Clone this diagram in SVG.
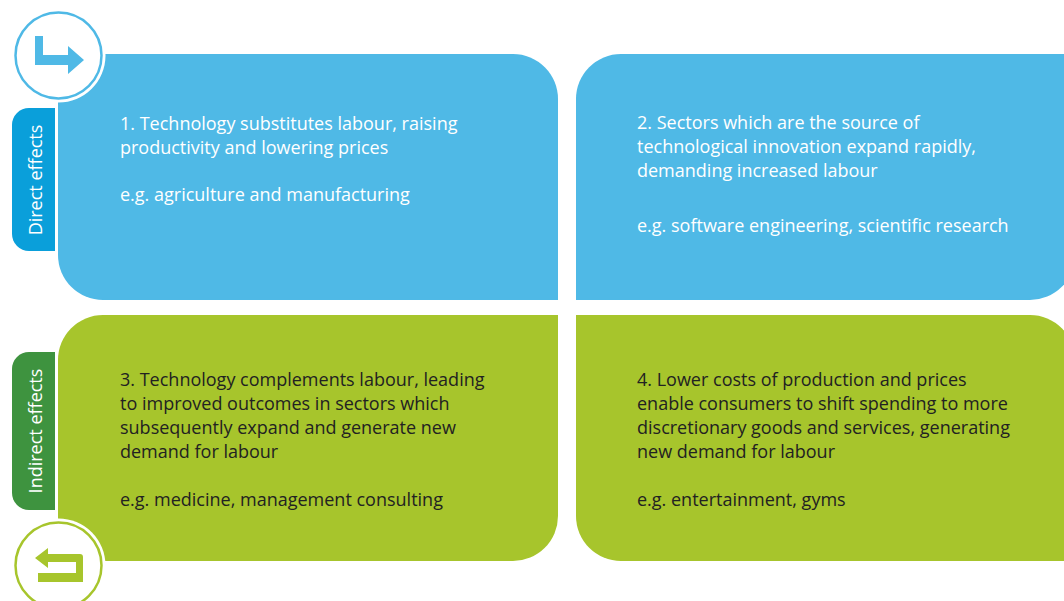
<svg xmlns="http://www.w3.org/2000/svg" width="1064" height="601" viewBox="0 0 1064 601">
<style>
.blue{fill:#4fb9e6}
.green{fill:#a7c52c}
.t{font-family:"Open Sans","Noto Sans","Liberation Sans",sans-serif;font-size:18px}
.w{fill:#ffffff}
.d{fill:#222222}
.tab{font-family:"Open Sans","Noto Sans","Liberation Sans",sans-serif;font-size:18px;fill:#ffffff;text-anchor:middle}
</style>
<rect width="1064" height="601" fill="#ffffff"/>
<g id="box1">
<path class="blue" d="M58,54 H513 A45,45 0 0 1 558,99 V300 H103 A45,45 0 0 1 58,255 Z"/>
<text class="t w" x="120" y="130">1. Technology substitutes labour, raising</text>
<text class="t w" x="120" y="154">productivity and lowering prices</text>
<text class="t w" x="120" y="201">e.g. agriculture and manufacturing</text>
</g>
<g id="box2">
<path class="blue" d="M576,99 A45,45 0 0 1 621,54 H1075 V255 A45,45 0 0 1 1030,300 H576 Z"/>
<text class="t w" x="637" y="129">2. Sectors which are the source of</text>
<text class="t w" x="637" y="153">technological innovation expand rapidly,</text>
<text class="t w" x="637" y="177">demanding increased labour</text>
<text class="t w" x="637" y="232">e.g. software engineering, scientific research</text>
</g>
<g id="box3">
<path class="green" d="M103,315 H558 V516 A45,45 0 0 1 513,561 H58 V360 A45,45 0 0 1 103,315 Z"/>
<text class="t d" x="120" y="386">3. Technology complements labour, leading</text>
<text class="t d" x="120" y="410">to improved outcomes in sectors which</text>
<text class="t d" x="120" y="434">subsequently expand and generate new</text>
<text class="t d" x="120" y="458">demand for labour</text>
<text class="t d" x="120" y="506">e.g. medicine, management consulting</text>
</g>
<g id="box4">
<path class="green" d="M576,315 H1030 A45,45 0 0 1 1075,360 V561 H621 A45,45 0 0 1 576,516 Z"/>
<text class="t d" x="637" y="386">4. Lower costs of production and prices</text>
<text class="t d" x="637" y="410">enable consumers to shift spending to more</text>
<text class="t d" x="637" y="434">discretionary goods and services, generating</text>
<text class="t d" x="637" y="458">new demand for labour</text>
<text class="t d" x="637" y="506">e.g. entertainment, gyms</text>
</g>
<g id="tab-direct">
<path fill="#0a9fda" d="M55,108 V251 H29 A17,17 0 0 1 12,234 V125 A17,17 0 0 1 29,108 Z"/>
<text class="tab" transform="translate(42,180) rotate(-90)">Direct effects</text>
</g>
<g id="tab-indirect">
<path fill="#3e933f" d="M55,352 V510 H29 A17,17 0 0 1 12,493 V369 A17,17 0 0 1 29,352 Z"/>
<text class="tab" transform="translate(42,431) rotate(-90)">Indirect effects</text>
</g>
<g id="icon-top">
<circle cx="58.5" cy="55.5" r="47" fill="#ffffff"/>
<circle cx="58.5" cy="55.5" r="43" fill="#ffffff" stroke="#4fb9e6" stroke-width="2.5"/>
<path fill="#4fb9e6" d="M35,36 H43 V55 H68 V46 L84,60 L68,74 V65 H35 Z"/>
</g>
<g id="icon-bottom">
<circle cx="58.5" cy="565.5" r="47" fill="#ffffff"/>
<circle cx="58.5" cy="565.5" r="43" fill="#ffffff" stroke="#a7c52c" stroke-width="2.5"/>
<path fill="#a7c52c" d="M35,558 L48,548 V554 H80 Q83,554 83,557 V582 H38 V573 H76 V562 H48 V568 Z"/>
</g>
<g id="connectors"></g>
</svg>
